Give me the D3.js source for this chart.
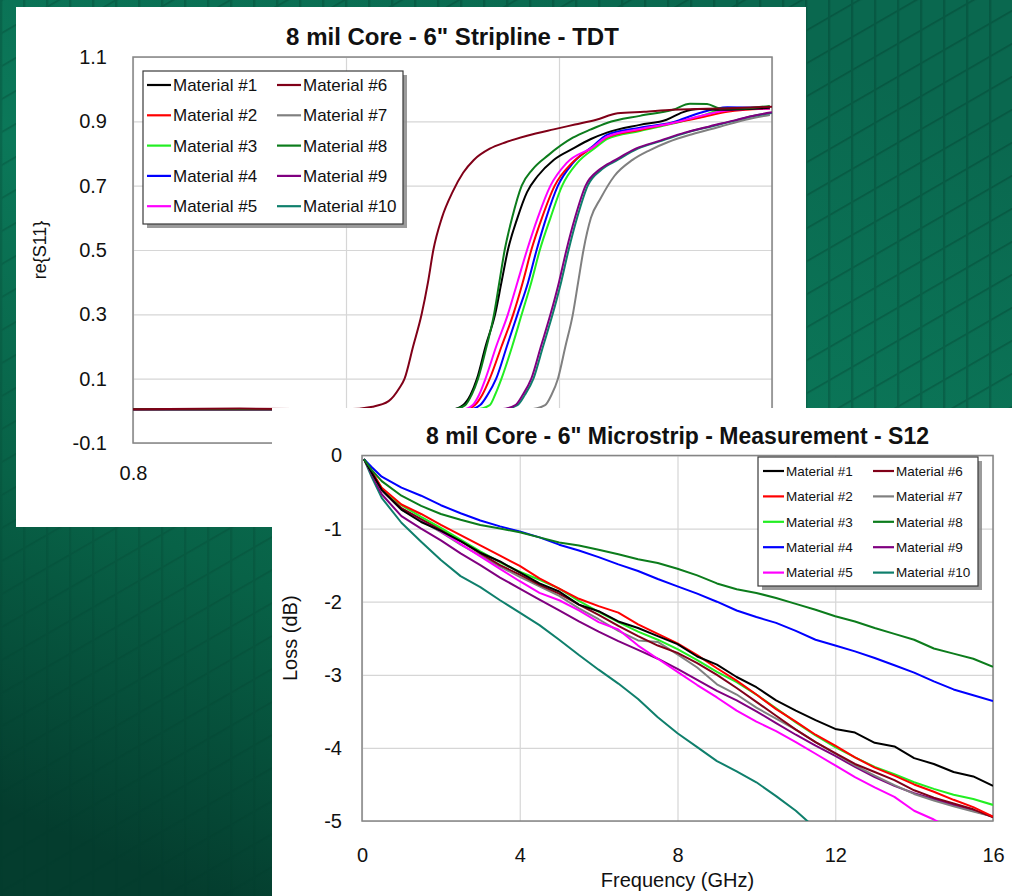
<!DOCTYPE html>
<html lang="en">
<head>
<meta charset="UTF-8" />
<title>8 mil Core - TDT and S12</title>
<script src="https://cdnjs.cloudflare.com/ajax/libs/d3/7.8.5/d3.min.js"></script>
<style>
  * { margin: 0; padding: 0; }
  body { background: #0a6b51; width: 1012px; height: 896px; overflow: hidden; }
  svg { display: block; }
  text { font-family: Arial, "Liberation Sans", sans-serif; fill: #111; }
</style>
</head>
<body>
<svg id="slide" width="1012" height="896"></svg>
<script>
// ---------- data ----------
const NAMES = ["Material #1", "Material #2", "Material #3", "Material #4", "Material #5",
               "Material #6", "Material #7", "Material #8", "Material #9", "Material #10"];
const COLORS = ["#000000", "#ff0000", "#22ee22", "#0000ff", "#ff00ff",
                "#800018", "#808080", "#0c7c1c", "#800080", "#0f7f6c"];

// TDT (top chart): [time (ns), re{S11}]
const TDT_X_TICKS = [0.8, 1.0, 1.2, 1.4];
const TDT_X_LABELS = [0.8];            // the other labels sit under the lower chart
const TDT_Y_TICKS = [-0.1, 0.1, 0.3, 0.5, 0.7, 0.9, 1.1];
const TDT_M1 = [[0.80,0.005],[1.00,0.005],[1.10,0.005],[1.110,0.018],[1.117,0.05],[1.123,0.10],[1.131,0.20],[1.140,0.30],[1.146,0.40],[1.152,0.50],[1.161,0.60],[1.170,0.68],[1.180,0.73],[1.195,0.78],[1.213,0.815],[1.230,0.845],[1.245,0.865],[1.276,0.889],[1.301,0.905],[1.316,0.928],[1.332,0.938],[1.354,0.936],[1.375,0.938],[1.398,0.942]];
const TDT_M2 = [[0.80,0.005],[1.112,0.005],[1.121,0.018],[1.128,0.05],[1.135,0.10],[1.146,0.20],[1.157,0.30],[1.166,0.40],[1.174,0.50],[1.184,0.60],[1.196,0.70],[1.212,0.77],[1.232,0.82],[1.245,0.850],[1.276,0.873],[1.307,0.895],[1.332,0.911],[1.358,0.930],[1.398,0.940]];
const TDT_M3 = [[0.80,0.005],[1.122,0.005],[1.135,0.018],[1.140,0.05],[1.146,0.10],[1.156,0.20],[1.165,0.30],[1.174,0.40],[1.182,0.50],[1.192,0.60],[1.203,0.70],[1.217,0.77],[1.235,0.82],[1.245,0.845],[1.276,0.870],[1.307,0.893],[1.332,0.915],[1.358,0.940],[1.398,0.940]];
const TDT_M4 = [[0.80,0.005],[1.116,0.005],[1.126,0.018],[1.133,0.05],[1.141,0.10],[1.151,0.20],[1.161,0.30],[1.171,0.40],[1.179,0.50],[1.188,0.60],[1.199,0.70],[1.213,0.77],[1.232,0.823],[1.245,0.858],[1.276,0.880],[1.307,0.897],[1.332,0.926],[1.358,0.944],[1.398,0.942]];
const TDT_M5 = [[0.80,0.005],[1.11,0.005],[1.119,0.018],[1.125,0.05],[1.131,0.10],[1.141,0.20],[1.152,0.30],[1.161,0.40],[1.170,0.50],[1.180,0.60],[1.192,0.70],[1.207,0.77],[1.232,0.82],[1.245,0.852],[1.276,0.876],[1.307,0.895],[1.332,0.916],[1.358,0.934],[1.398,0.940]];
const TDT_M6 = [[0.80,0.005],[0.90,0.007],[1.00,0.005],[1.025,0.013],[1.040,0.030],[1.050,0.070],[1.055,0.10],[1.063,0.20],[1.071,0.30],[1.077,0.40],[1.082,0.50],[1.090,0.60],[1.100,0.68],[1.110,0.74],[1.120,0.78],[1.135,0.815],[1.150,0.835],[1.170,0.855],[1.195,0.875],[1.215,0.890],[1.235,0.905],[1.255,0.925],[1.280,0.930],[1.307,0.936],[1.330,0.938],[1.354,0.940],[1.400,0.945]];
const TDT_M7 = [[0.80,0.005],[1.172,0.005],[1.187,0.018],[1.193,0.05],[1.199,0.10],[1.206,0.20],[1.213,0.30],[1.218,0.40],[1.223,0.50],[1.230,0.60],[1.239,0.66],[1.252,0.73],[1.269,0.78],[1.285,0.81],[1.302,0.835],[1.325,0.86],[1.351,0.883],[1.375,0.905],[1.398,0.920]];
const TDT_M8 = [[0.80,0.005],[1.10,0.005],[1.112,0.018],[1.118,0.05],[1.124,0.10],[1.132,0.20],[1.139,0.30],[1.144,0.40],[1.149,0.50],[1.156,0.60],[1.165,0.70],[1.175,0.75],[1.190,0.795],[1.213,0.849],[1.230,0.875],[1.245,0.895],[1.276,0.917],[1.307,0.936],[1.323,0.955],[1.339,0.954],[1.351,0.940],[1.370,0.940],[1.398,0.948]];
const TDT_M9 = [[0.80,0.005],[1.145,0.005],[1.159,0.018],[1.166,0.05],[1.174,0.10],[1.183,0.20],[1.192,0.30],[1.200,0.40],[1.207,0.50],[1.215,0.60],[1.225,0.70],[1.238,0.75],[1.253,0.78],[1.272,0.815],[1.295,0.84],[1.318,0.865],[1.342,0.885],[1.365,0.903],[1.379,0.915],[1.400,0.928]];
const TDT_M10 = [[0.80,0.005],[1.147,0.005],[1.161,0.018],[1.168,0.05],[1.176,0.10],[1.185,0.20],[1.194,0.30],[1.202,0.40],[1.209,0.50],[1.217,0.60],[1.227,0.70],[1.240,0.75],[1.255,0.78],[1.274,0.815],[1.297,0.84],[1.320,0.865],[1.344,0.885],[1.366,0.903],[1.380,0.915],[1.400,0.926]];

// S12 (bottom chart): loss (dB) at each frequency (GHz)
const FREQ = [0.05,0.25,0.5,1,1.5,2,2.5,3,3.5,4,4.5,5,5.5,6,6.5,7,7.5,8,8.5,9,9.5,10,10.5,11,11.5,12,12.5,13,13.5,14,14.5,15,15.5,16];
const S12_X_TICKS = [0, 4, 8, 12, 16];
const S12_Y_TICKS = [0, -1, -2, -3, -4, -5];
const LOSS_M1 = [-0.05,-0.24,-0.47,-0.74,-0.91,-1.03,-1.17,-1.33,-1.45,-1.60,-1.75,-1.86,-2.04,-2.13,-2.27,-2.36,-2.47,-2.58,-2.75,-2.86,-3.03,-3.17,-3.35,-3.49,-3.62,-3.74,-3.79,-3.93,-3.98,-4.14,-4.22,-4.33,-4.39,-4.52];
const LOSS_M2 = [-0.05,-0.22,-0.44,-0.67,-0.80,-0.95,-1.09,-1.23,-1.37,-1.51,-1.68,-1.82,-1.96,-2.06,-2.15,-2.31,-2.44,-2.57,-2.73,-2.91,-3.08,-3.27,-3.47,-3.64,-3.82,-3.97,-4.13,-4.27,-4.38,-4.50,-4.60,-4.71,-4.81,-4.94];
const LOSS_M3 = [-0.05,-0.23,-0.45,-0.68,-0.84,-0.99,-1.15,-1.31,-1.46,-1.59,-1.70,-1.82,-1.99,-2.14,-2.28,-2.41,-2.52,-2.65,-2.80,-2.96,-3.10,-3.27,-3.46,-3.65,-3.83,-3.99,-4.13,-4.26,-4.36,-4.47,-4.56,-4.64,-4.70,-4.78];
const LOSS_M4 = [-0.05,-0.16,-0.29,-0.44,-0.55,-0.68,-0.79,-0.89,-0.97,-1.04,-1.12,-1.22,-1.30,-1.39,-1.49,-1.58,-1.69,-1.79,-1.89,-2.00,-2.12,-2.21,-2.29,-2.40,-2.52,-2.60,-2.68,-2.77,-2.87,-2.97,-3.09,-3.20,-3.28,-3.36];
const LOSS_M5 = [-0.05,-0.24,-0.47,-0.73,-0.87,-1.04,-1.21,-1.38,-1.55,-1.72,-1.88,-1.98,-2.12,-2.28,-2.38,-2.60,-2.78,-2.96,-3.14,-3.31,-3.49,-3.64,-3.77,-3.92,-4.08,-4.24,-4.40,-4.54,-4.67,-4.86,-4.98,-5.12,null,null];
const LOSS_M6 = [-0.05,-0.23,-0.46,-0.72,-0.87,-1.01,-1.17,-1.34,-1.50,-1.63,-1.77,-1.89,-2.04,-2.18,-2.33,-2.47,-2.60,-2.70,-2.84,-3.00,-3.18,-3.37,-3.56,-3.75,-3.92,-4.07,-4.22,-4.33,-4.44,-4.58,-4.68,-4.76,-4.84,-4.95];
const LOSS_M7 = [-0.05,-0.24,-0.48,-0.74,-0.89,-1.05,-1.22,-1.37,-1.52,-1.66,-1.79,-1.92,-2.09,-2.24,-2.40,-2.53,-2.55,-2.72,-2.90,-3.13,-3.27,-3.45,-3.60,-3.75,-3.92,-4.08,-4.24,-4.38,-4.51,-4.63,-4.72,-4.80,-4.87,-4.94];
const LOSS_M8 = [-0.05,-0.20,-0.35,-0.55,-0.69,-0.80,-0.88,-0.95,-1.00,-1.05,-1.12,-1.19,-1.23,-1.29,-1.35,-1.42,-1.47,-1.55,-1.64,-1.75,-1.83,-1.88,-1.95,-2.03,-2.11,-2.20,-2.27,-2.36,-2.44,-2.52,-2.64,-2.71,-2.78,-2.89];
const LOSS_M9 = [-0.05,-0.26,-0.53,-0.83,-1.00,-1.16,-1.34,-1.50,-1.67,-1.82,-1.97,-2.12,-2.27,-2.41,-2.54,-2.66,-2.78,-2.92,-3.07,-3.22,-3.35,-3.50,-3.66,-3.82,-3.97,-4.11,-4.26,-4.40,-4.52,-4.62,-4.70,-4.78,-4.86,-4.94];
const LOSS_M10 = [-0.05,-0.30,-0.58,-0.92,-1.18,-1.43,-1.65,-1.80,-1.98,-2.15,-2.32,-2.52,-2.73,-2.93,-3.12,-3.33,-3.58,-3.80,-3.99,-4.18,-4.32,-4.47,-4.66,-4.86,-5.10,null,null,null,null,null,null,null,null,null];

const TDT_SERIES = [TDT_M1, TDT_M2, TDT_M3, TDT_M4, TDT_M5, TDT_M6, TDT_M7, TDT_M8, TDT_M9, TDT_M10];
const LOSS_SERIES = [LOSS_M1, LOSS_M2, LOSS_M3, LOSS_M4, LOSS_M5, LOSS_M6, LOSS_M7, LOSS_M8, LOSS_M9, LOSS_M10];

// ---------- background ----------
const svg = d3.select("#slide");
const defs = svg.append("defs");

const grad = defs.append("linearGradient").attr("id", "bgGrad")
  .attr("x1", 0.7).attr("y1", 0).attr("x2", 0.2).attr("y2", 1);
[[0, "#0a684f"], [0.4, "#0b7859"], [0.7, "#086247"], [1, "#043d2e"]].forEach(s =>
  grad.append("stop").attr("offset", s[0]).attr("stop-color", s[1]));

// the tile lines fade out toward the lower left, as on the slide
const fade = defs.append("linearGradient").attr("id", "fadeGrad")
  .attr("x1", 1).attr("y1", 0).attr("x2", 0).attr("y2", 1);
[[0, "#fff"], [0.55, "#ccc"], [1, "#333"]].forEach(s =>
  fade.append("stop").attr("offset", s[0]).attr("stop-color", s[1]));
defs.append("mask").attr("id", "fadeMask")
  .append("rect").attr("width", 1012).attr("height", 896).attr("fill", "url(#fadeGrad)");

const tiles = defs.append("pattern").attr("id", "tiles")
  .attr("patternUnits", "userSpaceOnUse")
  .attr("width", 23).attr("height", 33)
  .attr("patternTransform", "skewY(-30)");
tiles.append("path").attr("d", "M1,0V33M0,1H23")
  .attr("stroke", "#02382a").attr("stroke-width", 2.5)
  .attr("stroke-opacity", 0.32).attr("fill", "none");

svg.append("rect").attr("width", 1012).attr("height", 896).attr("fill", "url(#bgGrad)");
svg.append("rect").attr("width", 1012).attr("height", 896).attr("fill", "url(#tiles)")
  .attr("mask", "url(#fadeMask)");

// ---------- chart drawing ----------
function drawChart(c) {
  const g = svg.append("g");
  g.append("rect").attr("x", c.panel[0]).attr("y", c.panel[1])
    .attr("width", c.panel[2]).attr("height", c.panel[3]).attr("fill", "#fff");

  const x = d3.scaleLinear().domain(c.xDomain).range([c.left, c.right]);
  const y = d3.scaleLinear().domain(c.yDomain).range([c.bottom, c.top]);
  const h = c.bottom - c.top, w = c.right - c.left;

  // grid + tick labels
  const gx = g.append("g").attr("transform", `translate(0,${c.bottom})`)
    .call(d3.axisBottom(x).tickValues(c.xTicks).tickSize(-h).tickPadding(c.xPad).tickFormat(c.fmtX));
  const gy = g.append("g").attr("transform", `translate(${c.left},0)`)
    .call(d3.axisLeft(y).tickValues(c.yTicks).tickSize(-w).tickPadding(c.yPad).tickFormat(c.fmtY));
  [gx, gy].forEach(a => {
    a.select(".domain").remove();
    a.selectAll("line").attr("stroke", "#d6d6d6").attr("stroke-width", 1.2);
    a.selectAll("text").attr("font-size", c.tickSize).attr("font-family", "Arial, 'Liberation Sans', sans-serif").attr("fill", "#111");
  });
  gx.selectAll("text").filter(d => c.xLabels && !c.xLabels.includes(d)).remove();

  g.append("rect").attr("x", c.left).attr("y", c.top).attr("width", w).attr("height", h)
    .attr("fill", "none").attr("stroke", "#858585").attr("stroke-width", 1.5);

  // series
  const clipId = c.id + "-clip";
  defs.append("clipPath").attr("id", clipId).append("rect")
    .attr("x", c.left).attr("y", c.top).attr("width", w).attr("height", h);
  const line = d3.line().defined(d => d[1] !== null).curve(c.curve)
    .x(d => x(d[0])).y(d => y(d[1]));
  const lines = g.append("g").attr("clip-path", `url(#${clipId})`);
  c.order.forEach(i => {
    lines.append("path").datum(c.series[i])
      .attr("fill", "none").attr("stroke", COLORS[i]).attr("stroke-width", c.lineW)
      .attr("stroke-linejoin", "round").attr("d", line);
  });

  // titles
  g.append("text").attr("x", (c.left + c.right) / 2).attr("y", c.titleY)
    .attr("text-anchor", "middle").attr("font-weight", "bold").attr("font-size", c.titleSize)
    .text(c.title);
  g.append("text").attr("transform", `translate(${c.yLabelX},${(c.top + c.bottom) / 2}) rotate(-90)`)
    .attr("text-anchor", "middle").attr("font-size", c.labelSize).text(c.yLabel);
  if (c.xLabel) {
    g.append("text").attr("x", (c.left + c.right) / 2).attr("y", c.xLabelY)
      .attr("text-anchor", "middle").attr("font-size", c.labelSize).text(c.xLabel);
  }

  // legend
  const L = c.legend;
  g.append("rect").attr("x", L.x + 4).attr("y", L.y + 4).attr("width", L.w).attr("height", L.h)
    .attr("fill", "#8a8a8a").attr("opacity", 0.85);
  g.append("rect").attr("x", L.x).attr("y", L.y).attr("width", L.w).attr("height", L.h)
    .attr("fill", "#fff").attr("stroke", "#3a3a3a").attr("stroke-width", 1.2);
  NAMES.forEach((name, i) => {
    const col = Math.floor(i / 5), row = i % 5;
    const lx = L.x + L.padX + col * L.colW, ly = L.y + L.row0 + row * L.rowH;
    g.append("line").attr("x1", lx).attr("x2", lx + L.lineLen).attr("y1", ly).attr("y2", ly)
      .attr("stroke", COLORS[i]).attr("stroke-width", 2.2);
    g.append("text").attr("x", lx + L.lineLen + 2).attr("y", ly).attr("dy", "0.35em")
      .attr("font-size", L.fontSize).text(name);
  });
}

// top: TDT stripline
drawChart({
  id: "tdt",
  panel: [16, 7, 790, 520],
  left: 133, right: 772, top: 57, bottom: 443,
  xDomain: [0.8, 1.4], yDomain: [-0.1, 1.1],
  xTicks: TDT_X_TICKS, xLabels: TDT_X_LABELS, yTicks: TDT_Y_TICKS,
  fmtX: d => d.toFixed(1), fmtY: d => d.toFixed(1),
  xPad: 23, yPad: 26, tickSize: 20,
  series: TDT_SERIES, order: [6, 9, 8, 2, 3, 1, 4, 0, 7, 5], lineW: 2,
  curve: d3.curveMonotoneX,
  title: "8 mil Core - 6\" Stripline - TDT", titleY: 45, titleSize: 24,
  yLabel: "re{S11}", yLabelX: 46, labelSize: 18,
  legend: { x: 143, y: 71, w: 260, h: 153, padX: 4, colW: 130, row0: 14, rowH: 30.3, lineLen: 24, fontSize: 17 }
});

// bottom: S12 microstrip
drawChart({
  id: "s12",
  panel: [272, 408, 740, 488],
  left: 362, right: 993, top: 455.5, bottom: 821,
  xDomain: [0, 16], yDomain: [-5, 0],
  xTicks: S12_X_TICKS, yTicks: S12_Y_TICKS,
  fmtX: d => String(d), fmtY: d => String(d),
  xPad: 27, yPad: 20, tickSize: 20,
  series: LOSS_SERIES.map(vals => vals.map((v, j) => [FREQ[j], v])),
  order: [9, 8, 6, 4, 5, 2, 1, 0, 3, 7], lineW: 2,
  curve: d3.curveLinear,
  title: "8 mil Core - 6\" Microstrip - Measurement - S12", titleY: 444, titleSize: 23,
  yLabel: "Loss (dB)", yLabelX: 297, labelSize: 20,
  xLabel: "Frequency (GHz)", xLabelY: 887,
  legend: { x: 758, y: 457, w: 220, h: 129, padX: 5, colW: 110, row0: 14, rowH: 25.4, lineLen: 21, fontSize: 13.5 }
});
</script>
</body>
</html>
